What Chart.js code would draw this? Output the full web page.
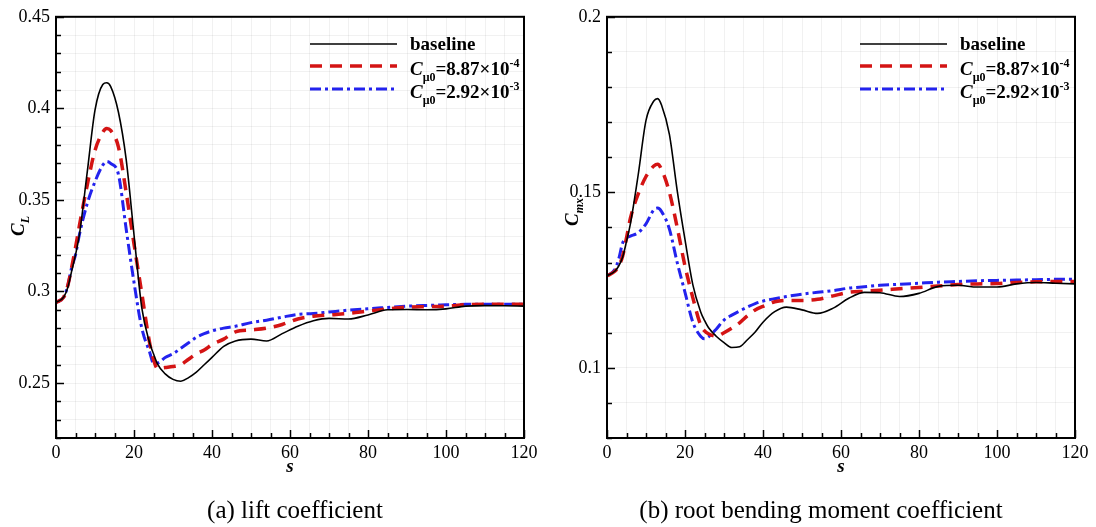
<!DOCTYPE html>
<html><head><meta charset="utf-8">
<script src="https://cdn.jsdelivr.net/npm/chart.js@4.4.0/dist/chart.umd.min.js"></script>
<style>
html,body{margin:0;padding:0;background:#fff;}
body{width:1096px;height:527px;position:relative;overflow:hidden;font-family:'Liberation Serif','Times New Roman',serif;}
.box{position:absolute;top:0;width:548px;height:527px;}
.cap{position:absolute;top:495px;font-size:25px;line-height:30px;color:#000;white-space:nowrap;transform:translateX(-50%);}
</style></head><body>
<div class="box" style="left:0"><canvas id="c1" width="548" height="527"></canvas></div>
<div class="box" style="left:548px"><canvas id="c2" width="548" height="527"></canvas></div>
<div class="cap" style="left:295px">(a) lift coefficient</div>
<div class="cap" style="left:821px">(b) root bending moment coefficient</div>
<script>
// ---------- data ----------
const sVals = [0,2,3,4,5,6,8,10,12,13,14,16,18,20,22,24,25,26,28,30,32,34,36,38,40,43,46,50,54,58,62,66,70,75,80,85,90,95,100,105,110,115,120];

const clBaseline = [0.294,0.297,0.302,0.311,0.320,0.331,0.365,0.399,0.413,0.414,0.412,0.398,0.372,0.331,0.291,0.272,0.266,0.2605,0.255,0.252,0.251,0.253,0.256,0.260,0.264,0.270,0.273,0.274,0.273,0.277,0.281,0.284,0.2853,0.285,0.2872,0.290,0.2902,0.290,0.2905,0.292,0.2923,0.2922,0.292];
const clLow = [0.294,0.297,0.303,0.313,0.324,0.336,0.358,0.377,0.387,0.389,0.388,0.379,0.354,0.326,0.299,0.272,0.263,0.258,0.2585,0.259,0.260,0.263,0.266,0.268,0.271,0.274,0.278,0.279,0.280,0.282,0.285,0.2865,0.2872,0.288,0.2893,0.2905,0.2915,0.2917,0.292,0.2928,0.293,0.293,0.293];
const clHigh = [0.294,0.297,0.303,0.313,0.320,0.331,0.348,0.360,0.369,0.371,0.370,0.364,0.334,0.305,0.280,0.267,0.261,0.261,0.264,0.266,0.269,0.272,0.275,0.277,0.2785,0.280,0.281,0.283,0.2843,0.286,0.2875,0.288,0.2888,0.2898,0.2906,0.2913,0.292,0.2924,0.2927,0.293,0.293,0.293,0.293];

const cmBaseline = [0.1262,0.1275,0.129,0.1315,0.136,0.141,0.155,0.1705,0.1760,0.1767,0.1748,0.1665,0.1505,0.1365,0.1237,0.1160,0.1135,0.1115,0.1090,0.1072,0.1058,0.1060,0.1080,0.1102,0.1130,0.1160,0.1173,0.1165,0.1155,0.1170,0.1198,0.1215,0.1214,0.1203,0.1212,0.1232,0.1235,0.1230,0.1230,0.1239,0.1243,0.1241,0.1239];
const cmLow = [0.1262,0.1275,0.129,0.1318,0.137,0.1426,0.1495,0.1545,0.1575,0.1580,0.1565,0.1500,0.1400,0.1290,0.1200,0.1122,0.1105,0.1097,0.1090,0.1100,0.1113,0.1128,0.1148,0.1165,0.1175,0.1188,0.1192,0.1192,0.1195,0.1205,0.1215,0.1218,0.1221,0.1225,0.1229,0.1233,0.1237,0.1239,0.1240,0.1243,0.1245,0.1246,0.1246];
const cmHigh = [0.1262,0.128,0.131,0.1355,0.1370,0.1375,0.1385,0.1410,0.1450,0.1455,0.1445,0.1395,0.1300,0.1215,0.1130,0.1090,0.1083,0.1088,0.1110,0.1136,0.1150,0.1162,0.1173,0.1183,0.1190,0.1197,0.1203,0.1210,0.1215,0.1220,0.1227,0.1231,0.1235,0.1238,0.1241,0.1244,0.1246,0.1248,0.1249,0.1250,0.1251,0.1252,0.1252];

const seriesNames = ['baseline','C_μ0=8.87×10^-4','C_μ0=2.92×10^-3'];
const legendCoef = ['8.87','2.92'];
const legendExp = ['-4','-3'];

const xMajorTicks = [0,20,40,60,80,100,120];
const xMinorStep = 5;
const clMajorTicks = [0.25,0.3,0.35,0.4,0.45];
const clTickLabels = ['0.25','0.3','0.35','0.4','0.45'];
const cmMajorTicks = [0.1,0.15,0.2];
const cmTickLabels = ['0.1','0.15','0.2'];
const yMinorStep = 0.01;

// ---------- helpers ----------
const FONT = "'Liberation Serif','Times New Roman',serif";
const styles = [
  {color:'#000000', width:1.6, dash:[]},
  {color:'#d41414', width:3.5, dash:[12,8]},
  {color:'#2323ee', width:3, dash:[11,4,3,4]}
];
function pts(ys){ return sVals.map((s,i)=>({x:s,y:ys[i]})); }
function range(a,b,step){ const r=[]; const n=Math.round((b-a)/step); for(let i=0;i<=n;i++) r.push(Math.round((a+i*step)*10000)/10000); return r; }
function isMajor(v, arr){ return arr.findIndex(m=>Math.abs(m-v)<1e-9); }

function makeChart(id, cfg){
  const xTicks = range(0,120,xMinorStep);
  const yTicks = range(cfg.yMin, cfg.yMax, yMinorStep);
  const plugin = {
    id:'deco'+id,
    afterDatasetsDraw(chart){
      const ctx = chart.ctx, a = chart.chartArea, xs = chart.scales.x, ys = chart.scales.y;
      ctx.save();
      // inward ticks
      ctx.strokeStyle = '#000'; ctx.lineWidth = 1.5;
      xTicks.forEach(v=>{
        const len = isMajor(v,xMajorTicks)>=0 ? 8 : 5;
        const px = Math.round(xs.getPixelForValue(v))+0.5;
        ctx.beginPath(); ctx.moveTo(px,a.bottom); ctx.lineTo(px,a.bottom-len); ctx.stroke();
      });
      yTicks.forEach(v=>{
        const len = isMajor(v,cfg.yMajor)>=0 ? 8 : 5;
        const py = Math.round(ys.getPixelForValue(v))+0.5;
        ctx.beginPath(); ctx.moveTo(a.left,py); ctx.lineTo(a.left+len,py); ctx.stroke();
      });
      // frame
      ctx.lineWidth = 2;
      ctx.strokeRect(a.left, a.top, a.right-a.left, a.bottom-a.top);
      // legend
      const lx0 = cfg.legX, lx1 = cfg.legX+87, tx = cfg.legX+100;
      const rowsLine = [44,66,89], rowsText = [50,75,98];
      chart.data.datasets.forEach((ds,i)=>{
        ctx.save();
        ctx.strokeStyle = ds.borderColor; ctx.lineWidth = ds.borderWidth; ctx.setLineDash(ds.borderDash||[]);
        ctx.beginPath(); ctx.moveTo(lx0,rowsLine[i]); ctx.lineTo(lx1,rowsLine[i]); ctx.stroke();
        ctx.restore();
        ctx.fillStyle = '#000'; ctx.textBaseline = 'alphabetic'; ctx.textAlign='left';
        const yb = rowsText[i];
        if(i===0){
          ctx.font = "bold 19px "+FONT; ctx.fillText(seriesNames[0], tx, yb);
        } else {
          let x = tx;
          ctx.font = "italic bold 19px "+FONT; ctx.fillText('C', x, yb); x += ctx.measureText('C').width;
          ctx.font = "bold 12px "+FONT; ctx.fillText('μ0', x, yb+6); x += ctx.measureText('μ0').width;
          const main = '='+legendCoef[i-1]+'×10';
          ctx.font = "bold 19px "+FONT; ctx.fillText(main, x, yb); x += ctx.measureText(main).width;
          ctx.font = "bold 12px "+FONT; ctx.fillText(legendExp[i-1], x, yb-8);
        }
      });
      // x title
      ctx.font = "italic bold 19px "+FONT; ctx.textAlign='center'; ctx.textBaseline='middle';
      ctx.fillText('s', (a.left+a.right)/2, 467);
      // y title
      ctx.translate(cfg.yTitleX, cfg.yTitleY); ctx.rotate(-Math.PI/2);
      ctx.font = "italic bold 19px "+FONT;
      const wC = ctx.measureText('C').width;
      ctx.font = "italic bold 12px "+FONT;
      const wS = ctx.measureText(cfg.ySub).width;
      let x0 = -(wC+wS)/2;
      ctx.textAlign='left'; ctx.textBaseline='alphabetic';
      ctx.font = "italic bold 19px "+FONT; ctx.fillText('C', x0, 6);
      ctx.font = "italic bold 12px "+FONT; ctx.fillText(cfg.ySub, x0+wC, 11);
      ctx.restore();
    }
  };
  return new Chart(document.getElementById(id), {
    type:'line',
    data:{ datasets: cfg.series.map((ys,i)=>({
      label: seriesNames[i], data: pts(ys),
      borderColor: styles[i].color, borderWidth: styles[i].width, borderDash: styles[i].dash,
      pointRadius:0, fill:false, cubicInterpolationMode:'monotone', borderCapStyle:'butt'
    }))},
    options:{
      responsive:false, animation:false, events:[],
      layout:{padding:{left:0,right:cfg.padRight,top:12,bottom:59}},
      plugins:{legend:{display:false}, tooltip:{enabled:false}},
      scales:{
        x:{type:'linear', min:0, max:120,
          afterBuildTicks:s=>{ s.ticks = xTicks.map(v=>({value:v})); },
          afterFit:s=>{ s.height = 30; },
          ticks:{autoSkip:false, maxRotation:0, padding:4, color:'#000', font:{family:FONT,size:18},
            callback:v=>{ const k=isMajor(v,xMajorTicks); return k>=0 ? String(xMajorTicks[k]) : ''; }},
          grid:{color:'rgba(0,0,0,0.055)', drawTicks:false, lineWidth:1},
          border:{display:false}
        },
        y:{type:'linear', min:cfg.yMin, max:cfg.yMax,
          afterBuildTicks:s=>{ s.ticks = yTicks.map(v=>({value:v})); },
          afterFit:s=>{ s.width = cfg.yWidth; },
          ticks:{autoSkip:false, padding:6, color:'#000', font:{family:FONT,size:18},
            callback:v=>{ const k=isMajor(v,cfg.yMajor); return k>=0 ? cfg.yLabels[k] : ''; }},
          grid:{color:'rgba(0,0,0,0.055)', drawTicks:false, lineWidth:1},
          border:{display:false}
        }
      }
    },
    plugins:[plugin]
  });
}

makeChart('c1', {yMin:0.22, yMax:0.45, yMajor:clMajorTicks, yLabels:clTickLabels, yWidth:56, padRight:24,
  series:[clBaseline, clLow, clHigh], legX:310, yTitleX:18, yTitleY:226, ySub:'L'});
makeChart('c2', {yMin:0.08, yMax:0.2, yMajor:cmMajorTicks, yLabels:cmTickLabels, yWidth:59, padRight:21,
  series:[cmBaseline, cmLow, cmHigh], legX:312, yTitleX:24, yTitleY:212, ySub:'mx'});
</script>
</body></html>
